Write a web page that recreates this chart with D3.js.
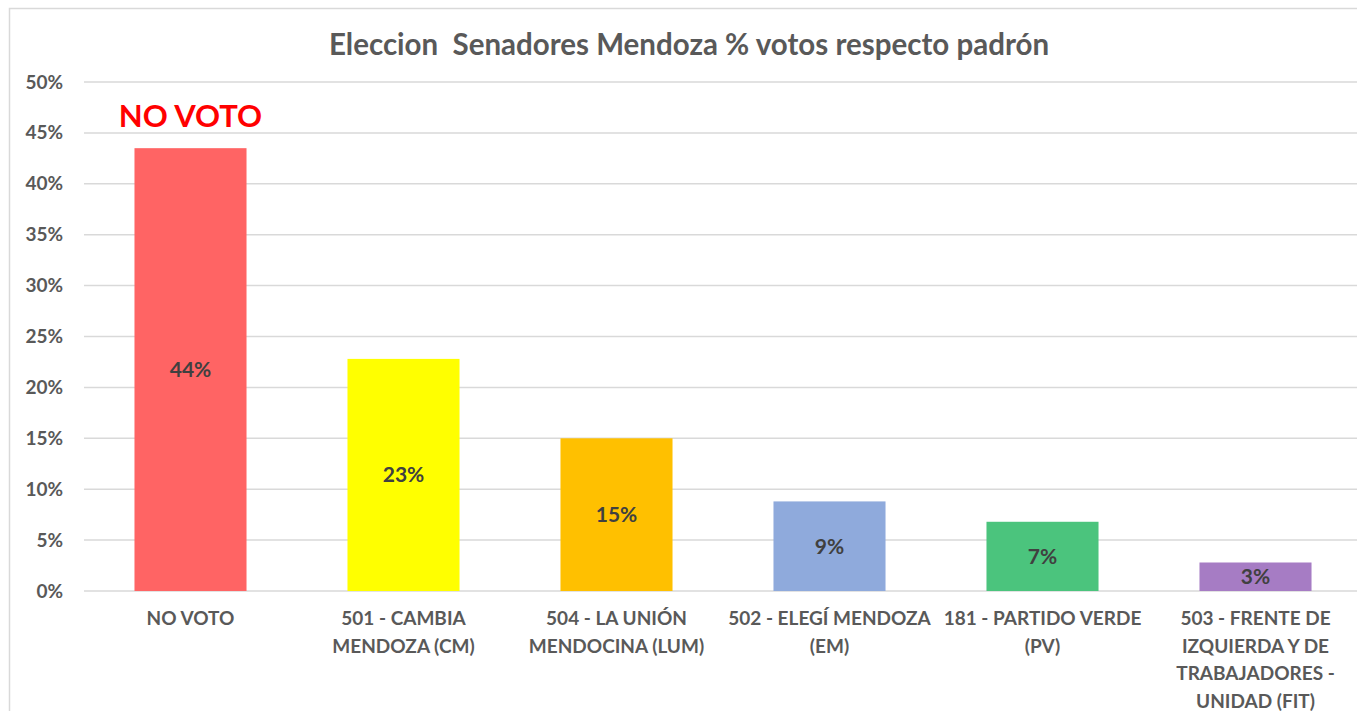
<!DOCTYPE html>
<html>
<head>
<meta charset="utf-8">
<script src="https://cdn.jsdelivr.net/npm/d3@7"></script>
<style>
    body { margin: 0; background: #ffffff; }
    svg { display: block; }
    text { font-family: Lato, "Open Sans", sans-serif; font-weight: bold; }
</style>
</head>
<body>
<svg id="chart"></svg>
<script>
const categories = ['NO VOTO', '501 - CAMBIA MENDOZA (CM)', '504 - LA UNIÓN MENDOCINA (LUM)',
    '502 - ELEGÍ MENDOZA (EM)', '181 - PARTIDO VERDE (PV)', '503 - FRENTE DE IZQUIERDA Y DE TRABAJADORES - UNIDAD (FIT)'];
const categoryLines = [
    ['NO VOTO'],
    ['501 - CAMBIA', 'MENDOZA (CM)'],
    ['504 - LA UNIÓN', 'MENDOCINA (LUM)'],
    ['502 - ELEGÍ MENDOZA', '(EM)'],
    ['181 - PARTIDO VERDE', '(PV)'],
    ['503 - FRENTE DE', 'IZQUIERDA Y DE', 'TRABAJADORES -', 'UNIDAD (FIT)']
];
const values = [0.435, 0.228, 0.150, 0.088, 0.068, 0.028];
const valueLabels = ['44%', '23%', '15%', '9%', '7%', '3%'];
const yTicks = [0, 0.05, 0.10, 0.15, 0.20, 0.25, 0.30, 0.35, 0.40, 0.45, 0.50];
const barColors = ['#ff6464', '#ffff00', '#ffc000', '#8faadc', '#4bc47d', '#a67cc4'];
const title = 'Eleccion\u00a0\u00a0Senadores Mendoza % votos respecto padrón';
const annotation = 'NO VOTO';

const width = 1357;
const height = 711;
const plot = { left: 84, right: 1362, top: 82, bottom: 591 };

const svg = d3.select('#chart').attr('width', width).attr('height', height);

// chart frame (cropped on right and bottom)
svg.append('rect')
    .attr('x', 9.5).attr('y', 8.5)
    .attr('width', 1400).attr('height', 720)
    .attr('fill', '#ffffff')
    .attr('stroke', '#d9d9d9')
    .attr('stroke-width', 1.5);

const x = d3.scaleBand().domain(categories).range([plot.left, plot.right])
    .paddingInner(0.474).paddingOuter(0.237);
const y = d3.scaleLinear().domain([0, 0.5]).range([plot.bottom, plot.top]);

// gridlines
svg.append('g')
    .selectAll('line')
    .data(yTicks)
    .enter()
    .append('line')
    .attr('x1', plot.left)
    .attr('x2', width)
    .attr('y1', d => y(d))
    .attr('y2', d => y(d))
    .attr('stroke', '#d9d9d9')
    .attr('stroke-width', 1.5);

// y axis labels
const yAxis = svg.append('g')
    .attr('transform', `translate(${plot.left - 21}, 0)`)
    .call(d3.axisLeft(y).tickValues(yTicks).tickFormat(d3.format('.0%')).tickSize(0).tickPadding(0));
yAxis.select('.domain').remove();
yAxis.selectAll('text')
    .attr('fill', '#595959')
    .style('font-size', '19px')
    .style('font-family', 'Lato, sans-serif')
    .style('font-weight', 'bold');

// bars
svg.selectAll('.bar')
    .data(values)
    .enter()
    .append('rect')
    .attr('class', 'bar')
    .attr('x', (d, i) => x(categories[i]))
    .attr('y', d => y(d))
    .attr('width', x.bandwidth())
    .attr('height', d => y(0) - y(d))
    .attr('fill', (d, i) => barColors[i]);

// value labels
svg.selectAll('.vlabel')
    .data(values)
    .enter()
    .append('text')
    .attr('class', 'vlabel')
    .attr('x', (d, i) => x(categories[i]) + x.bandwidth() / 2)
    .attr('y', d => (y(d) + y(0)) / 2)
    .attr('dy', '0.35em')
    .attr('text-anchor', 'middle')
    .attr('fill', '#404040')
    .style('font-size', '21px')
    .text((d, i) => valueLabels[i]);

// category labels
const xLabels = svg.append('g');
categories.forEach((c, i) => {
    const t = xLabels.append('text')
        .attr('x', x(c) + x.bandwidth() / 2)
        .attr('y', 625)
        .attr('text-anchor', 'middle')
        .attr('fill', '#595959')
        .style('font-size', '19px');
    categoryLines[i].forEach((line, j) => {
        t.append('tspan')
            .attr('x', x(c) + x.bandwidth() / 2)
            .attr('y', 625 + j * 27.5)
            .text(line);
    });
});

// annotation above first bar
svg.append('text')
    .attr('x', x(categories[0]) + x.bandwidth() / 2)
    .attr('y', 127)
    .attr('text-anchor', 'middle')
    .attr('fill', '#ff0000')
    .style('font-size', '31px')
    .text(annotation);

// title
svg.append('text')
    .attr('x', 689)
    .attr('y', 55)
    .attr('text-anchor', 'middle')
    .attr('fill', '#595959')
    .style('font-size', '29.5px')
    .text(title);
</script>
</body>
</html>
